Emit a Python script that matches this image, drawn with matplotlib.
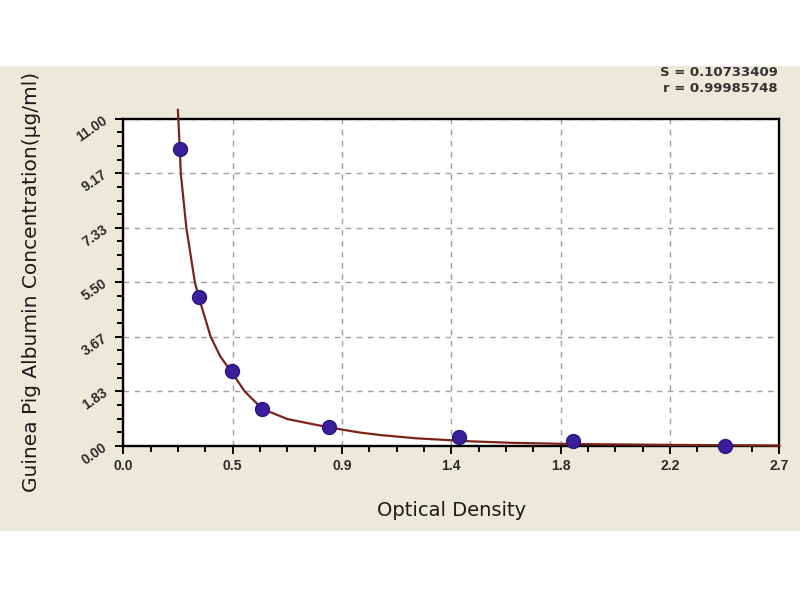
import numpy as np
import matplotlib
matplotlib.use('Agg')
from matplotlib import pyplot as plt
from matplotlib.patches import Rectangle
from matplotlib.ticker import AutoMinorLocator

# standard points (OD, concentration)
od_values = [0.233, 0.312, 0.447, 0.573, 0.848, 1.384, 1.851, 2.476]
conc_values = [10.0, 5.0, 2.5, 1.25, 0.625, 0.312, 0.156, 0.0]

# fitted curve
curve_od = [0.225, 0.233, 0.237, 0.26, 0.295, 0.312, 0.36, 0.40, 0.447, 0.50,
            0.573, 0.676, 0.76, 0.848, 0.97, 1.06, 1.21, 1.43, 1.60, 1.85,
            2.26, 2.7]
curve_conc = [11.3, 9.97, 9.17, 7.33, 5.5, 4.97, 3.67, 3.0, 2.47, 1.83,
              1.24, 0.9, 0.76, 0.62, 0.45, 0.36, 0.25, 0.15, 0.10, 0.06,
              0.03, 0.01]

x_ticks = [0.0, 0.45, 0.9, 1.35, 1.8, 2.25, 2.7]
x_tick_labels = ['0.0', '0.5', '0.9', '1.4', '1.8', '2.2', '2.7']
y_ticks = [0.0, 1.833, 3.667, 5.5, 7.333, 9.167, 11.0]
y_tick_labels = ['0.00', '1.83', '3.67', '5.50', '7.33', '9.17', '11.00']

fit_s = 'S = 0.10733409'
fit_r = 'r = 0.99985748'

plt.rcParams['font.family'] = ['DejaVu Sans']
tick_font = ['Liberation Sans Narrow', 'Liberation Sans', 'DejaVu Sans']

fig = plt.figure(figsize=(8, 6), dpi=100)
fig.patch.set_facecolor('white')
band = Rectangle((0, 0.115), 1, 0.775, transform=fig.transFigure,
                 facecolor='#ECE9DA', edgecolor='none', zorder=-5)
fig.add_artist(band)

ax = fig.add_axes([0.154, 0.257, 0.82, 0.545])
ax.set_zorder(2)
ax.set_facecolor('white')

ax.plot(curve_od, curve_conc, color='#7a2418', lw=1.6, clip_on=False, zorder=3)
ax.plot(od_values, conc_values, 'o', color='#3a1f9c', markeredgecolor='#2a1580',
        markersize=10, clip_on=False, zorder=4)

ax.set_xlim(0, 2.7)
ax.set_ylim(0, 11)
ax.set_xticks(x_ticks)
ax.set_xticklabels(x_tick_labels, family=tick_font, fontsize=10,
                   fontweight='bold', color='#2a2a2a')
ax.set_yticks(y_ticks)
ax.set_yticklabels(y_tick_labels, rotation=35, family=tick_font, fontsize=10,
                   fontweight='bold', color='#2a2a2a')
ax.xaxis.set_minor_locator(AutoMinorLocator(4))
ax.yaxis.set_minor_locator(AutoMinorLocator(4))

ax.grid(True, which='major', color='#a0a0a0', linestyle=(0, (4, 4)), lw=1)
ax.tick_params(which='major', direction='out', length=6, width=1.4)
ax.tick_params(which='minor', direction='out', length=4, width=1.4)

for sp in ax.spines.values():
    sp.set_linewidth(1.7)
    sp.set_color('black')

ax.set_xlabel('Optical Density', fontsize=14, labelpad=20, color='#1a1a1a')
ax.set_ylabel('Guinea Pig Albumin Concentration(μg/ml)', fontsize=14.5,
              labelpad=24, color='#1a1a1a')

fig.text(0.972, 0.880, fit_s, ha='right', va='center', fontsize=9.5,
         fontweight='bold', color='#333333')
fig.text(0.972, 0.853, fit_r, ha='right', va='center', fontsize=9.5,
         fontweight='bold', color='#333333')

plt.savefig('out.png', dpi=100, facecolor=fig.get_facecolor())
